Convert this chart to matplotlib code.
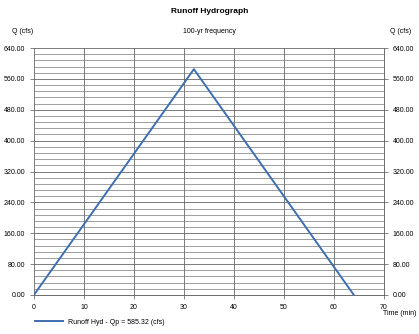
import numpy as np
import matplotlib.pyplot as plt
from matplotlib.ticker import MultipleLocator

# 数据
time_min = [0, 32, 64]
q_cfs = [0.0, 585.32, 0.0]
y_ticks = [0, 80, 160, 240, 320, 400, 480, 560, 640]
x_ticks = [0, 10, 20, 30, 40, 50, 60, 70]

plt.rcParams['font.family'] = ['Liberation Sans', 'DejaVu Sans']
fig = plt.figure(figsize=(4.19, 3.34), dpi=100)
ax = fig.add_axes([0.081, 0.117, 0.835, 0.739])

ax.plot(time_min, q_cfs, color='#3f6fae', lw=1.4, label='Runoff Hyd - Qp = 585.32 (cfs)')
ax.set_xlim(0, 70)
ax.set_ylim(0, 640)
ax.set_xticks(x_ticks)
ax.set_yticks(y_ticks)
ax.yaxis.set_minor_locator(MultipleLocator(16))
ax.set_yticklabels(['%.2f' % v for v in y_ticks])
ax.grid(True, which='major', color='#666666', lw=0.6)
ax.grid(True, which='minor', axis='y', color='#777777', lw=0.5)
ax.tick_params(axis='both', which='major', labelsize=5, length=3, width=0.5, color='#555555')
ax.tick_params(axis='y', which='minor', length=0)
ax.tick_params(axis='y', right=True, labelright=True)
for s in ax.spines.values():
    s.set_color('#555555')
    s.set_linewidth(0.6)
ax.spines['top'].set_visible(False)
ax.spines['left'].set_visible(False)

fig.text(0.5, 0.965, 'Runoff Hydrograph', ha='center', va='center', fontsize=6, fontweight='bold')
fig.text(0.5, 0.905, '100-yr frequency', ha='center', va='center', fontsize=5)
fig.text(0.055, 0.905, 'Q (cfs)', ha='center', va='center', fontsize=5)
fig.text(0.955, 0.905, 'Q (cfs)', ha='center', va='center', fontsize=5)
fig.text(0.913, 0.062, 'Time (min)', ha='left', va='center', fontsize=5)

ax.legend(loc='center left', bbox_to_anchor=(-0.005, -0.11), frameon=False, fontsize=5,
          handlelength=4, borderaxespad=0)

fig.savefig('out.png', dpi=100)
